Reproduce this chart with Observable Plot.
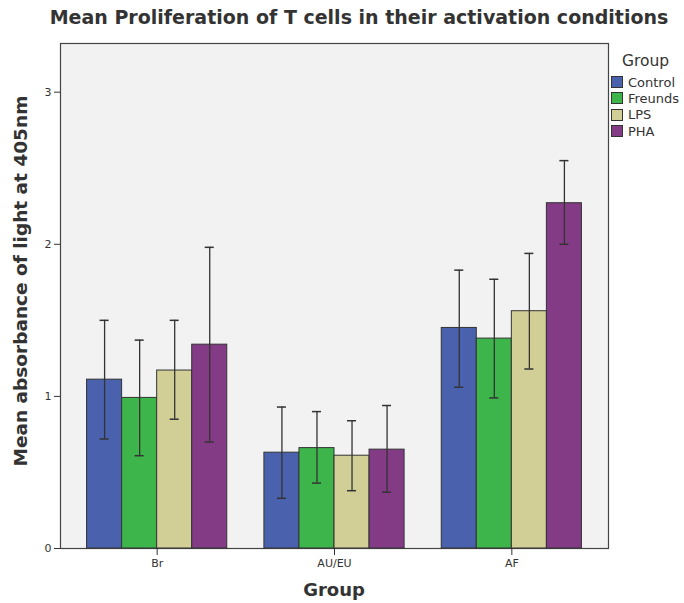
<!DOCTYPE html>
<html>
<head>
<meta charset="utf-8">
<script src="https://cdn.jsdelivr.net/npm/d3@7"></script>
<script src="https://cdn.jsdelivr.net/npm/@observablehq/plot@0.6"></script>
<style>
  html, body { margin: 0; padding: 0; background: #fff; }
  #wrap { position: relative; width: 684px; height: 603px; font-family: "DejaVu Sans", sans-serif; color: #333; }
  #wrap svg { position: absolute; left: 0; top: 0; }
  .title { position: absolute; left: 359px; top: 6px; transform: translateX(-50%); white-space: nowrap; font-weight: bold; font-size: 19px; color: #333; }
  .xlab { position: absolute; left: 334px; top: 579px; transform: translateX(-50%); font-weight: bold; font-size: 18px; color: #333; }
  .ylab { position: absolute; left: 20px; top: 281px; transform: translate(-50%, -50%) rotate(-90deg); white-space: nowrap; font-weight: bold; font-size: 18.5px; color: #333; }
  .legend { position: absolute; left: 611px; top: 52px; font-size: 13px; color: #333; }
  .legend .lt { font-size: 15.5px; margin-left: 11px; margin-bottom: 4px; }
  .legend .it { display: flex; align-items: center; height: 16.3px; }
  .legend .sw { width: 12px; height: 12px; border: 1px solid #333; margin-right: 5px; box-sizing: border-box; }
</style>
</head>
<body>
<div id="wrap"></div>
<script>
const groups = ["Br", "AU/EU", "AF"];
const conditions = ["Control", "Freunds", "LPS", "PHA"];
const colors = ["#4a62ad", "#3db54a", "#d2cf96", "#843b85"];
// means per group, in condition order
const meanBr   = [1.11, 0.99, 1.17, 1.34];
const meanAUEU = [0.63, 0.66, 0.61, 0.65];
const meanAF   = [1.45, 1.38, 1.56, 2.27];
// error bar lower / upper
const lowBr    = [0.72, 0.61, 0.85, 0.70];
const highBr   = [1.50, 1.37, 1.50, 1.98];
const lowAUEU  = [0.33, 0.43, 0.38, 0.37];
const highAUEU = [0.93, 0.90, 0.84, 0.94];
const lowAF    = [1.06, 0.99, 1.18, 2.00];
const highAF   = [1.83, 1.77, 1.94, 2.55];
const yTicks = [0, 1, 2, 3];

const means = [meanBr, meanAUEU, meanAF];
const lows = [lowBr, lowAUEU, lowAF];
const highs = [highBr, highAUEU, highAF];
const data = [];
groups.forEach((g, gi) => conditions.forEach((c, ci) => {
  data.push({group: g, condition: c, mean: means[gi][ci], low: lows[gi][ci], high: highs[gi][ci]});
}));

const chart = Plot.plot({
  width: 684,
  height: 603,
  marginLeft: 68,
  marginRight: 84,
  marginTop: 43,
  marginBottom: 55,
  style: {fontFamily: "'DejaVu Sans', sans-serif", fontSize: "11px", color: "#333", background: "transparent"},
  fx: {domain: groups, paddingInner: 0, paddingOuter: 0, round: false, label: null},
  x: {domain: conditions, paddingInner: 0, paddingOuter: 0.53, round: false, axis: null},
  y: {domain: [0, 3.32], label: null},
  color: {domain: conditions, range: colors},
  marks: [
    Plot.frame({fill: "#f2f2f2", stroke: "#444", strokeWidth: 1.2, facet: "super", insetLeft: -8, insetRight: -8}),
    Plot.barY(data, {fx: "group", x: "condition", y: "mean", fill: "condition", stroke: "#333", strokeWidth: 1, insetLeft: 0, insetRight: 0}),
    Plot.ruleX(data, {fx: "group", x: "condition", y1: "low", y2: "high", stroke: "#333", strokeWidth: 1.3}),
    Plot.tickY(data, {fx: "group", x: "condition", y: "high", stroke: "#333", strokeWidth: 1.5, insetLeft: 13, insetRight: 13}),
    Plot.tickY(data, {fx: "group", x: "condition", y: "low", stroke: "#333", strokeWidth: 1.5, insetLeft: 13, insetRight: 13}),
    Plot.axisY({ticks: yTicks, tickSize: 6, tickPadding: 3, label: null, dx: -8, tickFormat: d3.format("d")}),
    Plot.axisFx({anchor: "bottom", tickSize: 7, tickPadding: 4, label: null})
  ]
});

const wrap = document.getElementById("wrap");
wrap.appendChild(chart);
wrap.insertAdjacentHTML("beforeend", `
  <div class="title">Mean Proliferation of T cells in their activation conditions</div>
  <div class="xlab">Group</div>
  <div class="ylab">Mean absorbance of light at 405nm</div>
  <div class="legend"><div class="lt">Group</div>${conditions.map((c, i) => `<div class="it"><span class="sw" style="background:${colors[i]}"></span>${c}</div>`).join("")}</div>
`);
</script>
</body>
</html>
